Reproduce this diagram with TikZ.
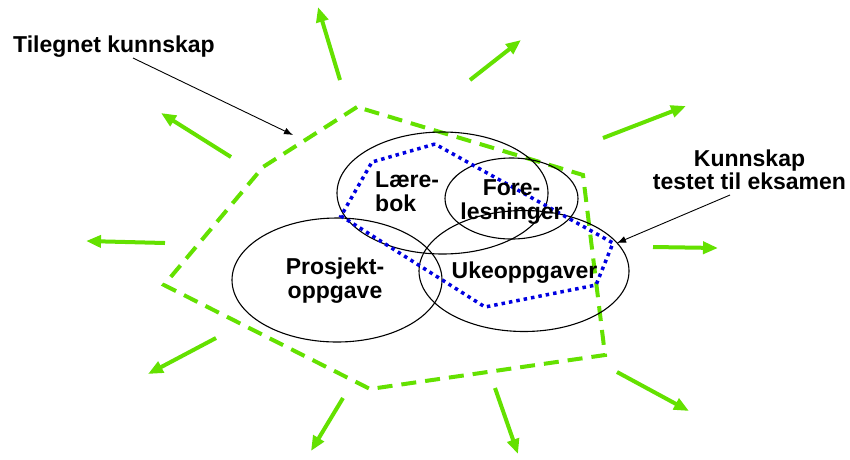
\documentclass[tikz,border=0pt]{standalone}
\usepackage{fontspec}
\setmainfont{Liberation Sans}
\usetikzlibrary{arrows.meta,shapes.geometric}
\definecolor{lgreen}{RGB}{100,225,0}
\definecolor{dblue}{RGB}{0,0,225}
\tikzset{
  lbl/.style={font=\bfseries\fontsize{23}{23.5}\selectfont, inner sep=0pt},
  blob/.style={draw=black, line width=1.1pt, ellipse, inner sep=0pt},
  ray/.style={draw=lgreen, line width=4pt, -{Triangle[length=15pt,width=12pt]}},
  pointer/.style={draw=black, line width=0.9pt, -{Latex[length=9pt,width=7pt]}},
  gbound/.style={draw=lgreen, line width=4pt, dash pattern=on 15pt off 9pt},
  bbound/.style={draw=dblue, line width=3.5pt, dash pattern=on 3.5pt off 4pt}
}
\begin{document}
\begin{tikzpicture}[x=1pt,y=-1pt]
\useasboundingbox (0,0) rectangle (850,459);
% green boundary
\coordinate (gA) at (357,107);
\coordinate (gB) at (263,167);
\coordinate (gC) at (164,285);
\coordinate (gD) at (370,389);
\coordinate (gE) at (605,355);
\coordinate (gF) at (583,175);
\draw[gbound] (gA) -- (gB) -- (gC) -- (gD) -- (gE) -- (gF) -- cycle;
% ellipses
\node[blob, minimum width=211pt, minimum height=122pt] (laere) at (442.5,193) {};
\node[blob, minimum width=133pt, minimum height=81pt] (fore) at (511.5,198.5) {};
\node[blob, minimum width=210pt, minimum height=121pt] (uke) at (524,271) {};
\node[blob, minimum width=210pt, minimum height=124pt] (prosj) at (337,280) {};
% blue boundary
\coordinate (bA) at (435,144);
\coordinate (bB) at (372,162);
\coordinate (bC) at (341,216);
\coordinate (bD) at (485,307);
\coordinate (bE) at (596,285);
\coordinate (bF) at (613,243);
\draw[bbound] (bA) -- (bB) -- (bC) -- (bD) -- (bE) -- (bF) -- cycle;
% labels in ellipses
\node[lbl, align=left, anchor=west] (tl) at (375,191.5) {Lære-\\bok};
\node[lbl, align=center] (tf) at (511.5,202) {Fore-\\lesninger};
\node[lbl, anchor=base] (tu) at (524.5,278) {Ukeoppgaver};
\node[lbl, align=center] (tp) at (335,280.5) {Prosjekt-\\oppgave};
% outer labels
\node[lbl, anchor=base west] (tk) at (13,52) {Tilegnet kunnskap};
\node[lbl, align=center] (te) at (749.5,170) {Kunnskap\\testet til eksamen};
\coordinate (tkend) at (293,135);
\coordinate (teend) at (617,243);
\draw[pointer] (133,58) -- (tkend);
\draw[pointer] (730,195) -- (teend);
% rays
\coordinate (r1s) at (340,80);  \coordinate (r1e) at (318,7);
\coordinate (r2s) at (470,80);  \coordinate (r2e) at (521,40);
\coordinate (r3s) at (603,138); \coordinate (r3e) at (686,106);
\coordinate (r4s) at (653,247); \coordinate (r4e) at (718,248);
\coordinate (r5s) at (617,372); \coordinate (r5e) at (689,411);
\coordinate (r6s) at (495,388); \coordinate (r6e) at (518,454);
\coordinate (r7s) at (343,398); \coordinate (r7e) at (311,451);
\coordinate (r8s) at (216,338); \coordinate (r8e) at (148,374);
\coordinate (r9s) at (165,243); \coordinate (r9e) at (86,241);
\coordinate (r10s) at (231,157); \coordinate (r10e) at (161,113);
\foreach \i in {1,...,10} {\draw[ray] (r\i s) -- (r\i e);}
\end{tikzpicture}
\end{document}
